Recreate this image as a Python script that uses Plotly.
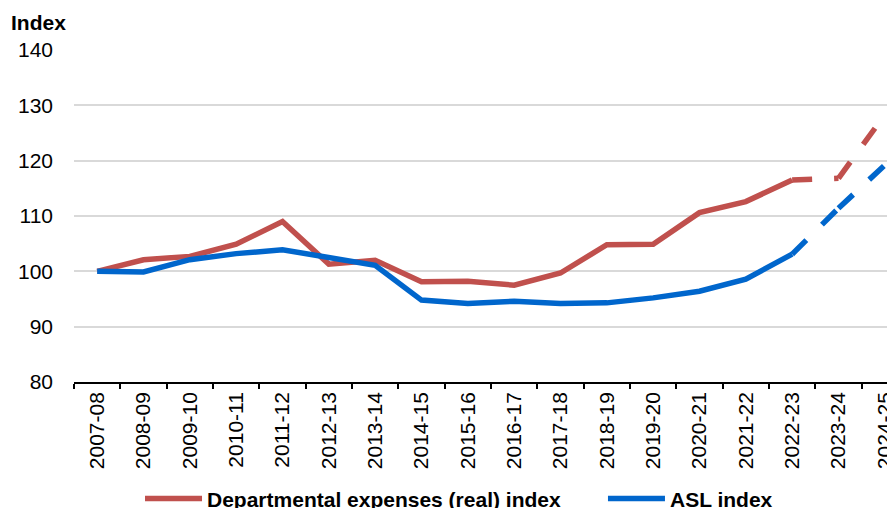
import plotly.graph_objects as go

years = ["2007-08", "2008-09", "2009-10", "2010-11", "2011-12", "2012-13",
         "2013-14", "2014-15", "2015-16", "2016-17", "2017-18", "2018-19",
         "2019-20", "2020-21", "2021-22", "2022-23", "2023-24", "2024-25"]

dept_actual = [100, 102.1, 102.7, 104.9, 109.0, 101.3, 102.0, 98.1, 98.2,
               97.5, 99.7, 104.8, 104.9, 110.6, 112.6, 116.5]
asl_actual = [100, 99.9, 102.1, 103.2, 103.9, 102.6, 101.1, 94.8, 94.2,
              94.6, 94.2, 94.3, 95.2, 96.4, 98.6, 103.1]

proj_years = ["2022-23", "2023-24", "2024-25"]
dept_proj = [116.5, 116.8, 128.3]
asl_proj = [103.1, 111.4, 119.2]

RED = "#C0504D"
BLUE = "#0066CC"
FONT = "Liberation Sans, Arial, sans-serif"
LW = 5.5

fig = go.Figure()

fig.add_trace(go.Scatter(
    x=years[:len(dept_actual)], y=dept_actual, mode="lines",
    name="<b>Departmental expenses (real) index</b>", legend="legend",
    line=dict(color=RED, width=LW)))
fig.add_trace(go.Scatter(
    x=years[:len(asl_actual)], y=asl_actual, mode="lines",
    name="<b>ASL index</b>", legend="legend2",
    line=dict(color=BLUE, width=LW)))

# projected (dashed) segments, each restarting the dash pattern
for vals, col in ((dept_proj, RED), (asl_proj, BLUE)):
    for i in range(len(proj_years) - 1):
        fig.add_trace(go.Scatter(
            x=proj_years[i:i + 2], y=vals[i:i + 2], mode="lines",
            showlegend=False, hoverinfo="skip",
            line=dict(color=col, width=LW, dash="20px,22px")))

leg_common = dict(orientation="h", xanchor="left", y=-0.352, yanchor="middle",
                  font=dict(family=FONT, size=21, color="#000000"),
                  itemwidth=57, bgcolor="rgba(0,0,0,0)")

# the page body adds an 8px offset; size and margins compensate for it
fig.update_layout(
    width=887, height=500,
    margin=dict(l=66, r=0, t=42, b=126, autoexpand=False),
    paper_bgcolor="white", plot_bgcolor="white",
    font=dict(family=FONT, size=20, color="#000000"),
    showlegend=True,
    legend=dict(x=0.0804, **leg_common),
    legend2=dict(x=0.6443, **leg_common),
    annotations=[dict(text="<b>Index</b>", xref="paper", yref="paper",
                      x=-0.0795, y=1.084, xanchor="left", yanchor="middle",
                      showarrow=False,
                      font=dict(family=FONT, size=21, color="#000000"))],
)

fig.update_xaxes(
    type="category", categoryorder="array", categoryarray=years,
    range=[-0.5, 17.22], automargin=False,
    showline=True, linecolor="#000000", linewidth=1.5,
    ticks="outside", ticklen=5, tickwidth=1.5, tickcolor="#000000",
    tickson="boundaries", tickangle=-90,
    tickfont=dict(family=FONT, size=21, color="#000000"),
    showgrid=False, zeroline=False,
)
fig.update_yaxes(
    range=[80, 140], dtick=10, tick0=80, automargin=False,
    showgrid=True, gridcolor="#D9D9D9", gridwidth=1.5,
    showline=False, zeroline=False, ticks="",
    ticklabelstandoff=20,
    tickfont=dict(family=FONT, size=21, color="#000000"),
)

fig.write_html("out.html")
